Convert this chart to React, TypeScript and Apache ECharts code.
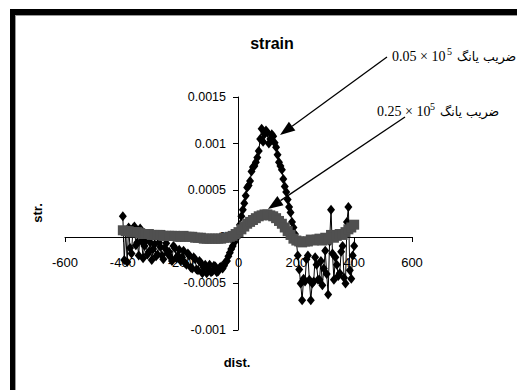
import React, { useEffect, useRef } from "react";
import * as echarts from "echarts";

const xSoft: number[] = [];
for (let i = 0; i <= 160; i++) xSoft.push(-400 + i * 5);
const xStiff: number[] = [];
for (let i = 0; i <= 80; i++) xStiff.push(-400 + i * 10);

// strain, units of 1e-4 (Young modulus 0.05e5), dist step 5
const strainSoft: number[] = [
  2.2, -2.5, 0.6, -2.7, 1.0, -1.2, -1.8, 0.9, 1.1, -0.9,
  -0.6, -2.0, 0.9, -0.5, -2.3, -1.0, -0.4, -1.9, -1.6, -0.6,
  -2.5, -1.3, -0.8, -2.1, -1.9, -0.6, -1.1, -2.0, -2.4, -1.2,
  -0.7, -1.8, -1.6, -2.2, -2.6, -1.0, -1.2, -2.3, -2.0, -1.4,
  -2.6, -2.2, -1.5, -2.8, -3.0, -1.8, -2.0, -3.3, -3.4, -2.2,
  -2.4, -3.5, -3.6, -2.6, -2.8, -3.9, -3.3, -3.0, -3.9, -3.4,
  -3.0, -3.8, -3.7, -3.1, -3.2, -3.8, -3.7, -3.3, -3.2, -3.4,
  -3.1, -2.7, -2.6, -2.1, -1.7, -1.3, -1.0, -0.6, -0.3, 0.0,
  0.4, 1.3, 2.2, 2.9, 3.6, 4.4, 5.3, 5.5, 6.0, 7.0,
  7.5, 7.6, 8.0, 8.5, 9.2, 10.5, 11.6, 10.2, 11.0, 11.4,
  11.2, 10.0, 10.5, 11.0, 10.8, 10.1, 9.6, 8.8, 8.0, 7.6,
  7.2, 6.2, 5.4, 4.8, 4.0, 3.2, 2.6, 1.6, 1.0, 0.3,
  -0.5, -2.0, -3.5, -5.0, -6.8, -4.5, -4.8, -2.4, -2.0, -4.6,
  -6.8, -5.0, -4.8, -2.2, -3.0, -4.6, -4.6, -2.6, -5.2, -3.4,
  -1.5, -4.0, -6.2, -0.5, 2.9, -1.8, -4.6, -2.2, -3.0, -4.2,
  -3.9, -1.6, -1.0, -4.4, -5.0, 1.6, 3.2, -3.6, -4.5, -2.0,
  -1.0,
];

// strain, units of 1e-4 (Young modulus 0.25e5), dist step 10
const strainStiff: number[] = [
  0.7, 0.6, 0.6, 0.5, 0.5, 0.5, 0.4, 0.3, 0.3, 0.3,
  0.2, 0.2, 0.2, 0.2, 0.1, 0.1, 0.1, 0.1, 0.1, 0.0,
  0.0, 0.1, 0.0, 0.0, 0.0, -0.1, -0.1, -0.1, -0.2, -0.2,
  -0.2, -0.2, -0.2, -0.2, -0.2, -0.1, -0.1, 0.0, 0.1, 0.3,
  0.5, 0.8, 1.1, 1.4, 1.6, 1.8, 2.0, 2.2, 2.3, 2.4,
  2.4, 2.3, 2.2, 2.0, 1.7, 1.4, 1.0, 0.6, 0.2, -0.2,
  -0.4, -0.5, -0.6, -0.5, -0.5, -0.3, -0.4, -0.3, -0.2, -0.4,
  -0.1, -0.3, 0.2, -0.1, 0.1, 0.3, 0.2, 0.5, 0.8, 1.0,
  1.3,
];

const titleText = "strain";
const xAxisName = "dist.";
const yAxisName = "str.";
const label1 = "0.05 × 10";
const label2 = "0.25 × 10";
const persian = "ضریب یانگ";

function arrow(x1: number, y1: number, x2: number, y2: number) {
  const head = 15;
  const half = 5.5;
  const a = Math.atan2(y2 - y1, x2 - x1);
  const bx = x2 - head * Math.cos(a);
  const by = y2 - head * Math.sin(a);
  const px = -Math.sin(a) * half;
  const py = Math.cos(a) * half;
  return [
    {
      type: "line",
      shape: { x1, y1, x2: bx, y2: by },
      style: { stroke: "#000", lineWidth: 1.3 },
    },
    {
      type: "polygon",
      shape: {
        points: [
          [x2, y2],
          [bx + px, by + py],
          [bx - px, by - py],
        ],
      },
      style: { fill: "#000" },
    },
  ];
}

export default function App() {
  const ref = useRef<HTMLDivElement>(null);
  useEffect(() => {
    if (!ref.current) return;
    const chart = echarts.init(ref.current, undefined, { renderer: "svg" });
    const toPts = (xs: number[], arr: number[]) => arr.map((v, i) => [xs[i], v * 1e-4]);
    const lab = { fontFamily: "Liberation Sans", color: "#000" };
    chart.setOption({
      animation: false,
      backgroundColor: "#fff",
      grid: { left: 65, right: 105, top: 97, bottom: 60, containLabel: false, outerBoundsMode: "none" },
      xAxis: {
        type: "value",
        min: -600,
        max: 600,
        interval: 200,
        position: "bottom",
        offset: -93,
        axisLine: { onZero: false, lineStyle: { color: "#000", width: 1 } },
        axisTick: { show: true, inside: false, length: 5, lineStyle: { color: "#000" } },
        axisLabel: { ...lab, fontSize: 13, margin: 19 },
        splitLine: { show: false },
      },
      yAxis: {
        type: "value",
        min: -0.001,
        max: 0.0015,
        interval: 0.0005,
        position: "left",
        offset: -173,
        axisLine: { show: true, onZero: false, lineStyle: { color: "#000", width: 1 } },
        axisTick: { show: true, inside: false, length: 5, lineStyle: { color: "#000" } },
        axisLabel: {
          ...lab,
          fontSize: 12.5,
          margin: 12,
          formatter: (v: number) => String(parseFloat(v.toFixed(4))),
        },
        splitLine: { show: false },
      },
      series: [
        {
          type: "line",
          data: toPts(xSoft, strainSoft),
          symbol: "diamond",
          symbolSize: [8, 10],
          showAllSymbol: true,
          itemStyle: { color: "#000" },
          lineStyle: { color: "#000", width: 1 },
          z: 2,
        },
        {
          type: "line",
          data: toPts(xStiff, strainStiff),
          symbol: "rect",
          symbolSize: 10,
          showAllSymbol: true,
          itemStyle: { color: "#505050" },
          lineStyle: { color: "#505050", width: 2 },
          z: 3,
        },
      ],
      graphic: [
        { type: "rect", shape: { x: 10, y: 9, width: 507, height: 6 }, style: { fill: "#000" } },
        { type: "rect", shape: { x: 10, y: 9, width: 5, height: 381 }, style: { fill: "#000" } },
        { type: "rect", shape: { x: 15, y: 15, width: 502, height: 1 }, style: { fill: "#999" } },
        { type: "rect", shape: { x: 15, y: 15, width: 1, height: 375 }, style: { fill: "#999" } },
        {
          type: "text",
          x: 272,
          y: 43,
          style: { text: titleText, font: "bold 16px 'Liberation Sans'", fill: "#000", align: "center", verticalAlign: "middle" },
        },
        {
          type: "text",
          x: 37,
          y: 213,
          rotation: Math.PI / 2,
          style: { text: yAxisName, font: "bold 13px 'Liberation Sans'", fill: "#000", align: "center", verticalAlign: "middle" },
        },
        {
          type: "text",
          x: 237,
          y: 362,
          style: { text: xAxisName, font: "bold 13px 'Liberation Sans'", fill: "#000", align: "center", verticalAlign: "middle" },
        },
        {
          type: "text",
          x: 392,
          y: 56,
          style: { text: label1, font: "14px 'Liberation Serif'", fill: "#000", align: "left", verticalAlign: "middle" },
        },
        {
          type: "text",
          x: 447,
          y: 51,
          style: { text: "5", font: "10px 'Liberation Serif'", fill: "#000", align: "left", verticalAlign: "middle" },
        },
        {
          type: "text",
          x: 457,
          y: 56,
          style: { text: persian, font: "12.5px 'DejaVu Sans'", fill: "#000", align: "left", verticalAlign: "middle" },
        },
        {
          type: "text",
          x: 377,
          y: 111,
          style: { text: label2, font: "14px 'Liberation Serif'", fill: "#000", align: "left", verticalAlign: "middle" },
        },
        {
          type: "text",
          x: 430,
          y: 106,
          style: { text: "5", font: "10px 'Liberation Serif'", fill: "#000", align: "left", verticalAlign: "middle" },
        },
        {
          type: "text",
          x: 440,
          y: 111,
          style: { text: persian, font: "12.5px 'DejaVu Sans'", fill: "#000", align: "left", verticalAlign: "middle" },
        },
        ...arrow(387, 57, 280, 135),
        ...arrow(405, 117, 268, 209),
      ],
    });
    return () => chart.dispose();
  }, []);
  return (
    <div
      ref={ref}
      style={{ position: "fixed", left: 0, top: 0, width: 517, height: 390, background: "#fff" }}
    />
  );
}
